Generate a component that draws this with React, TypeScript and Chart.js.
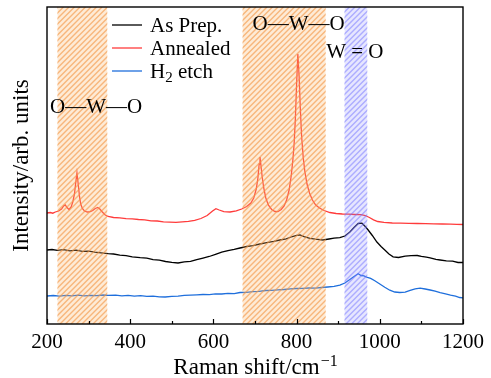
import { useEffect, useRef } from "react";
import { Chart, registerables } from "chart.js";

Chart.register(...registerables);

// Raman spectra (intensity in arbitrary units, curves offset vertically)
const asPrepShift = [200, 212, 225, 240, 255, 270, 285, 300, 315, 330, 347, 360, 375, 390, 405, 424, 440, 455, 470, 485, 500, 515, 530, 545, 560, 575, 590, 605, 620, 635, 650, 664, 680, 695, 712, 728, 745, 760, 775, 790, 800, 808, 818, 832, 845, 863, 878, 890, 904, 916, 928, 938, 948, 957, 965, 972, 982, 993, 1003, 1012, 1022, 1032, 1045, 1061, 1075, 1090, 1100, 1112, 1121, 1135, 1145, 1160, 1175, 1188, 1200];
const asPrepIntensity = [74, 74.5, 73.6, 74.3, 73.2, 73.8, 72.6, 72.9, 71.8, 71.2, 70.4, 70.0, 68.8, 68.4, 67.2, 66.3, 65.8, 64.4, 63.9, 62.5, 61.6, 61.0, 62.2, 62.6, 64.3, 65.9, 67.5, 69.6, 71.8, 73.4, 74.6, 76.0, 77.5, 78.3, 80.0, 81.4, 82.6, 84.0, 85.2, 87.5, 88.6, 89.0, 87.3, 85.6, 84.8, 84.0, 85.0, 85.8, 86.3, 88.0, 92.0, 96.5, 100.5, 100.8, 97.5, 94.0, 88.5, 82.0, 77.5, 74.0, 70.0, 67.2, 66.5, 67.8, 68.3, 68.5, 67.6, 66.8, 66.2, 64.6, 64.0, 63.1, 62.8, 61.5, 61.5];

const annealedShift = [200, 208, 214, 220, 228, 235, 240, 244, 248, 253, 258, 262, 266, 269, 272, 275, 278, 281, 285, 290, 297, 304, 310, 316, 322, 327, 333, 340, 347, 360, 375, 390, 405, 420, 435, 450, 465, 480, 495, 510, 525, 540, 555, 570, 585, 598, 606, 614, 625, 640, 655, 668, 680, 690, 697, 703, 707, 710, 712, 714, 717, 721, 726, 732, 740, 748, 755, 763, 770, 776, 782, 787, 791, 794, 797, 800, 803, 806, 809, 812, 816, 820, 825, 831, 838, 846, 855, 866, 880, 895, 910, 925, 940, 955, 965, 975, 985, 995, 1010, 1030, 1050, 1070, 1090, 1110, 1130, 1150, 1170, 1185, 1200];
const annealedIntensity = [111, 111.5, 110.8, 112, 113, 115, 118, 119, 116.5, 114.5, 117, 122, 130, 141, 151, 140, 128, 120, 115.5, 113, 112, 112.3, 113.5, 115.5, 116.5, 115, 112, 109, 107.5, 106.5, 106.2, 105.4, 105.2, 104.5, 104.1, 103.2, 103.0, 102.1, 101.8, 101.6, 102.2, 102.6, 103.6, 105.5, 108.5, 113, 115.3, 114, 112.4, 112.0, 113.2, 115, 117.5, 121, 126, 135, 146, 160, 167, 160, 148, 136, 126, 119, 114.5, 112.5, 112.3, 114.5, 118, 124, 134, 148, 164, 180, 205, 240, 270, 248, 215, 188, 166, 152, 140, 131, 124, 119, 116, 113.5, 111.5, 110.5, 110.0, 109.8, 109.5, 109.3, 108.5, 106.5, 104.2, 102.5, 101.6, 101.0, 100.8, 100.6, 100.5, 100.3, 100.1, 100.0, 99.8, 99.7, 99.5];

const etchShift = [200, 215, 230, 245, 260, 275, 290, 305, 320, 335, 347, 365, 380, 395, 410, 425, 440, 455, 470, 484, 500, 515, 530, 545, 560, 575, 590, 605, 620, 635, 650, 664, 680, 695, 710, 725, 740, 755, 770, 785, 800, 815, 830, 845, 860, 875, 890, 904, 916, 928, 938, 948, 955, 962, 970, 978, 988, 1000, 1012, 1024, 1036, 1048, 1061, 1073, 1085, 1097, 1109, 1121, 1133, 1145, 1158, 1170, 1182, 1192, 1200];
const etchIntensity = [28, 28.5, 27.8, 28.6, 28.2, 28.9, 28.1, 28.7, 28.3, 29.0, 28.6, 28.9, 28.2, 28.6, 27.9, 28.3, 27.6, 27.9, 27.2, 27.0, 27.6, 27.9, 28.6, 28.9, 29.2, 29.5, 29.4, 30.1, 30.0, 30.6, 30.4, 31.5, 31.6, 32.4, 32.6, 33.5, 33.6, 34.2, 34.5, 35.1, 35.5, 35.6, 36.0, 35.9, 36.5, 37.0, 37.6, 38.8, 41.0, 44.5, 47.5, 50.2, 48.5, 48.2, 46.5, 45.6, 43.2, 40.0, 36.8, 33.8, 32.0, 31.5, 31.8, 33.6, 35.2, 35.8, 35.0, 34.0, 32.8, 31.3, 30.2, 28.8, 27.9, 26.5, 26.2];

const seriesLabels = ["As Prep.", "Annealed", "H2 etch"];
const seriesColors = ["#000000", "#ff3b3b", "#1f6fdc"];

// Highlighted Raman-shift ranges (cm^-1)
const bandStart = [225, 670, 915];
const bandEnd = [345, 870, 970];
const bandKind = ["orange", "orange", "blue"];

// Vibration-mode labels, anchored in data coordinates
const modeText = ["O\u2014W\u2014O", "O\u2014W\u2014O", "W = O"];
const modeShift = [318, 805, 940];
const modeLevel = [217, 300, 272];

const xMin = 200;
const xMax = 1200;
const xMajorStep = 200;
const xMinorStep = 100;

const SERIF = "'Liberation Serif', 'Times New Roman', serif";

const bandStyles: Record<string, { bg: string; stripe: string }> = {
  orange: { bg: "rgba(250,180,105,0.27)", stripe: "rgba(242,150,70,0.62)" },
  blue: { bg: "rgba(130,130,255,0.2)", stripe: "rgba(115,115,255,0.5)" },
};

const overlayPlugin = {
  id: "ramanOverlay",
  afterDatasetsDraw(chart: any) {
    const { ctx, chartArea: a, scales } = chart;
    const xs = scales.x;
    const h = a.bottom - a.top;
    for (let i = 0; i < bandStart.length; i++) {
      const x0 = xs.getPixelForValue(bandStart[i]);
      const x1 = xs.getPixelForValue(bandEnd[i]);
      const st = bandStyles[bandKind[i]];
      ctx.save();
      ctx.beginPath();
      ctx.rect(x0, a.top, x1 - x0, h);
      ctx.clip();
      ctx.fillStyle = st.bg;
      ctx.fillRect(x0, a.top, x1 - x0, h);
      ctx.strokeStyle = st.stripe;
      ctx.lineWidth = 1.4;
      ctx.beginPath();
      for (let s = a.left - h; s < a.right; s += 5.5) {
        ctx.moveTo(s, a.bottom);
        ctx.lineTo(s + h, a.top);
      }
      ctx.stroke();
      ctx.restore();
    }
  },
  afterDraw(chart: any) {
    const { ctx, chartArea: a, scales } = chart;
    const xs = scales.x;
    const ys = scales.y;
    ctx.save();

    // frame
    ctx.strokeStyle = "#000";
    ctx.lineWidth = 1.4;
    ctx.strokeRect(a.left, a.top, a.right - a.left, a.bottom - a.top);

    // inward ticks on the bottom axis
    ctx.lineWidth = 1.2;
    ctx.beginPath();
    for (let v = xMin; v <= xMax; v += xMinorStep) {
      const px = Math.round(xs.getPixelForValue(v)) + 0.5;
      const len = v % xMajorStep === 0 ? 5 : 3;
      ctx.moveTo(px, a.bottom);
      ctx.lineTo(px, a.bottom - len);
    }
    ctx.stroke();

    // legend
    ctx.fillStyle = "#000";
    ctx.textBaseline = "alphabetic";
    ctx.textAlign = "left";
    const legFont = 21;
    for (let i = 0; i < seriesLabels.length; i++) {
      const cy = a.top + 18 + i * 23;
      ctx.strokeStyle = seriesColors[i];
      ctx.lineWidth = 1.3;
      ctx.beginPath();
      ctx.moveTo(112, cy);
      ctx.lineTo(142, cy);
      ctx.stroke();
      ctx.fillStyle = "#000";
      ctx.font = `${legFont}px ${SERIF}`;
      const base = cy + 7;
      const label = seriesLabels[i];
      if (label.startsWith("H2")) {
        ctx.fillText("H", 150, base);
        const wH = ctx.measureText("H").width;
        ctx.font = `${Math.round(legFont * 0.7)}px ${SERIF}`;
        ctx.fillText("2", 150 + wH, base + 4);
        const w2 = ctx.measureText("2").width;
        ctx.font = `${legFont}px ${SERIF}`;
        ctx.fillText(label.slice(2), 150 + wH + w2, base);
      } else {
        ctx.fillText(label, 150, base);
      }
    }

    // vibration-mode labels
    ctx.font = `21px ${SERIF}`;
    ctx.textAlign = "center";
    ctx.textBaseline = "middle";
    for (let i = 0; i < modeText.length; i++) {
      ctx.fillText(modeText[i], xs.getPixelForValue(modeShift[i]), ys.getPixelForValue(modeLevel[i]));
    }

    // x-axis title with superscript
    const tFont = 23;
    ctx.textBaseline = "alphabetic";
    ctx.textAlign = "left";
    ctx.font = `${tFont}px ${SERIF}`;
    const main = "Raman shift/cm";
    const wMain = ctx.measureText(main).width;
    ctx.font = `${Math.round(tFont * 0.7)}px ${SERIF}`;
    const sup = "\u22121";
    const wSup = ctx.measureText(sup).width;
    const cx = (a.left + a.right) / 2;
    const startX = cx - (wMain + wSup) / 2;
    const baseY = 374;
    ctx.font = `${tFont}px ${SERIF}`;
    ctx.fillText(main, startX, baseY);
    ctx.font = `${Math.round(tFont * 0.7)}px ${SERIF}`;
    ctx.fillText(sup, startX + wMain + 1, baseY - 8);

    // y-axis title
    ctx.save();
    ctx.translate(22, (a.top + a.bottom) / 2);
    ctx.rotate(-Math.PI / 2);
    ctx.font = `${tFont}px ${SERIF}`;
    ctx.textAlign = "center";
    ctx.textBaseline = "middle";
    ctx.fillText("Intensity/arb. units", 0, 0);
    ctx.restore();

    ctx.restore();
  },
};

export default function App() {
  const canvasRef = useRef<HTMLCanvasElement | null>(null);

  useEffect(() => {
    const canvas = canvasRef.current;
    if (!canvas) return;
    const toPoints = (xsArr: number[], ysArr: number[]) => xsArr.map((v, i) => ({ x: v, y: ysArr[i] }));
    const chart = new Chart(canvas, {
      type: "line",
      data: {
        datasets: [
          { label: seriesLabels[0], data: toPoints(asPrepShift, asPrepIntensity), borderColor: seriesColors[0], borderWidth: 1.3, pointRadius: 0, tension: 0 },
          { label: seriesLabels[1], data: toPoints(annealedShift, annealedIntensity), borderColor: seriesColors[1], borderWidth: 1.3, pointRadius: 0, tension: 0 },
          { label: seriesLabels[2], data: toPoints(etchShift, etchIntensity), borderColor: seriesColors[2], borderWidth: 1.3, pointRadius: 0, tension: 0 },
        ],
      },
      options: {
        responsive: false,
        animation: false,
        events: [],
        layout: { padding: { top: 7, right: 28, left: 0, bottom: 0 } },
        plugins: { legend: { display: false }, tooltip: { enabled: false }, title: { display: false } },
        scales: {
          x: {
            type: "linear",
            min: xMin,
            max: xMax,
            grid: { display: false, drawTicks: false },
            border: { display: false },
            ticks: {
              stepSize: xMinorStep,
              autoSkip: false,
              maxRotation: 0,
              padding: 6,
              color: "#000",
              font: { family: SERIF, size: 21 },
              callback: (v: any) => (Number(v) % xMajorStep === 0 ? String(v) : ""),
            },
            afterFit: (s: any) => {
              s.height = 54;
            },
          },
          y: {
            min: 0,
            max: 317,
            grid: { display: false, drawTicks: false },
            border: { display: false },
            ticks: { display: false },
            afterFit: (s: any) => {
              s.width = 47;
            },
          },
        },
      },
      plugins: [overlayPlugin],
    });
    return () => chart.destroy();
  }, []);

  return (
    <div style={{ position: "absolute", left: 0, top: 0, width: 491, height: 378, background: "#fff" }}>
      <canvas ref={canvasRef} width={491} height={378} style={{ display: "block" }} />
    </div>
  );
}
